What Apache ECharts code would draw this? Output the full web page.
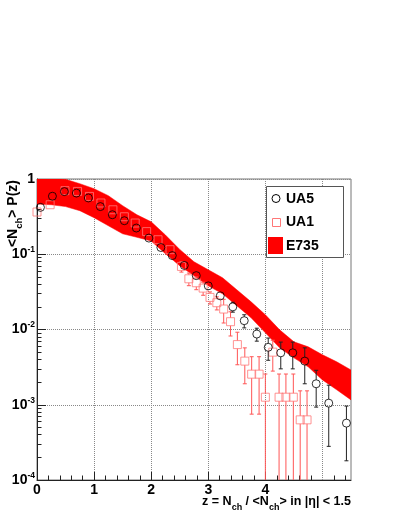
<!DOCTYPE html>
<html>
<head>
<meta charset="utf-8">
<script src="https://cdn.jsdelivr.net/npm/echarts@6/dist/echarts.min.js"></script>
<style>
html, body { margin: 0; padding: 0; background: #fff; }
#chart { width: 399px; height: 516px; }
</style>
</head>
<body>
<div id="chart"></div>
<script>
// UA5 points (z, <Nch>P(z), stat error)
const ua5Z = [0.06, 0.27, 0.48, 0.69, 0.90, 1.11, 1.32, 1.53, 1.74, 1.96, 2.17, 2.37, 2.58, 2.79, 3.00, 3.21,
  3.43, 3.63, 3.85, 4.05, 4.27, 4.48, 4.69, 4.89, 5.11, 5.42]
const ua5P = [0.42, 0.59, 0.68, 0.65, 0.56, 0.43, 0.335, 0.279, 0.223, 0.164, 0.123, 0.096, 0.071, 0.052, 0.038, 0.028,
  0.020, 0.0131, 0.0087, 0.0058, 0.0049, 0.0049, 0.0038, 0.0019, 0.00105, 0.00057]
const ua5Err = [0.013, 0.018, 0.02, 0.02, 0.017, 0.013, 0.01, 0.008, 0.007, 0.005, 0.006, 0.005, 0.0036, 0.0026, 0.003, 0.0028,
  0.003, 0.0026, 0.0017, 0.0019, 0.0019, 0.0019, 0.0019, 0.00097, 0.00077, 0.00039]

// UA1 points
const ua1Z = [0.0, 0.23, 0.49, 0.71, 0.92, 1.12, 1.33, 1.53, 1.72, 1.92, 2.12, 2.33, 2.53, 2.66, 2.79, 2.91,
  3.03, 3.15, 3.27, 3.39, 3.51, 3.64, 3.76, 3.89, 4.00, 4.13, 4.24, 4.36, 4.49, 4.61, 4.73]
const ua1P = [0.364, 0.455, 0.70, 0.684, 0.587, 0.48, 0.39, 0.315, 0.26, 0.20, 0.156, 0.115, 0.0689, 0.0472, 0.0418, 0.0355,
  0.0267, 0.0227, 0.0187, 0.0127, 0.0063, 0.0038, 0.00255, 0.00255, 0.00126, 0.0050, 0.00126, 0.00126, 0.00126, 0.00063, 0.00063]
const ua1Err = [0.018, 0.023, 0.035, 0.034, 0.029, 0.024, 0.02, 0.016, 0.013, 0.01, 0.008, 0.006, 0.011, 0.009, 0.008, 0.007,
  0.0049, 0.0045, 0.0065, 0.0045, 0.0029, 0.0019, 0.0018, 0.0018, 0.0013, 0.0022, 0.0013, 0.0013, 0.0013, 0.0009, 0.0009]

// E735 band (upper / lower edge)
const e735Z = [0, 0.25, 0.5, 0.75, 1.0, 1.25, 1.5, 1.75, 2.0, 2.25, 2.5, 2.75, 3.0, 3.25, 3.5, 3.75, 4.0, 4.25, 4.5, 4.75, 5.0, 5.25, 5.5]
const e735Hi = [1.05, 1.02, 0.99, 0.866, 0.743, 0.60, 0.442, 0.335, 0.27, 0.18, 0.116, 0.0794, 0.0622, 0.0487, 0.0337, 0.0233,
  0.0157, 0.0099, 0.00686, 0.00589, 0.00461, 0.00372, 0.0029]
const e735Lo = [0.465, 0.455, 0.43, 0.379, 0.306, 0.239, 0.187, 0.168, 0.15, 0.1016, 0.0703, 0.0518, 0.0381, 0.0298, 0.0207, 0.0143,
  0.00904, 0.0057, 0.0042, 0.00319, 0.00214, 0.00158, 0.00116]

const xTicks = [0, 1, 2, 3, 4, 5]
const xMinorTicks = []
for (let i = 1; i < 28; i++) { if (i % 5 !== 0) xMinorTicks.push(+(i * 0.2).toFixed(1)) }
const yTicks = [1e-4, 1e-3, 1e-2, 1e-1, 1]
const yMinorTicks = []
for (let d = -4; d < 0; d++) { for (let m = 2; m <= 9; m++) yMinorTicks.push(m * Math.pow(10, d)) }

const FONT = "'Liberation Sans', Arial, Helvetica, sans-serif"
const red = '#ff0000'
const ua1Color = '#f77'

const pairs = (xs, ys) => xs.map((x, i) => [x, ys[i]])
const triples = (xs, ys, es) => xs.map((x, i) => [x, ys[i], es[i]])

const errorBars = (color, half) => (params, api) => {
  const x = api.value(0), y = api.value(1), e = api.value(2)
  const c = api.coord([x, y])
  const cs = params.coordSys
  const yTop = api.coord([x, y + e])[1]
  const lo = y - e
  const yBot = lo > 0 ? api.coord([x, lo])[1] : cs.y + cs.height + 2
  const st = { stroke: color, lineWidth: 1 }
  const kids = []
  if (c[1] - yTop > half) {
    kids.push({ type: 'line', shape: { x1: c[0], y1: yTop, x2: c[0], y2: c[1] - half }, style: st })
    kids.push({ type: 'line', shape: { x1: c[0] - 2, y1: yTop, x2: c[0] + 2, y2: yTop }, style: st })
  }
  if (yBot - c[1] > half) {
    kids.push({ type: 'line', shape: { x1: c[0], y1: c[1] + half, x2: c[0], y2: yBot }, style: st })
    if (lo > 0) kids.push({ type: 'line', shape: { x1: c[0] - 2, y1: yBot, x2: c[0] + 2, y2: yBot }, style: st })
  }
  return { type: 'group', children: kids }
}

const bandItem = (params, api) => {
  const pts = []
  e735Z.forEach((z, i) => pts.push(api.coord([z, e735Hi[i]])))
  for (let i = e735Z.length - 1; i >= 0; i--) pts.push(api.coord([e735Z[i], e735Lo[i]]))
  return { type: 'polygon', shape: { points: pts }, style: { fill: red, stroke: red, lineWidth: 0.5 } }
}

const labelRich = {
  b: { fontSize: 14, fontWeight: 'bold', fontFamily: FONT, color: '#000', lineHeight: 18 },
  s: { fontSize: 8.5, fontWeight: 'bold', fontFamily: FONT, color: '#000', lineHeight: 10, verticalAlign: 'top' }
}
const titleRich = {
  m: { fontSize: 12.5, fontWeight: 'bold', fontFamily: FONT, color: '#000', lineHeight: 14, verticalAlign: 'top' },
  sub: { fontSize: 9, fontWeight: 'bold', fontFamily: FONT, color: '#000', lineHeight: 9, padding: [8, 0, 0, 0], verticalAlign: 'top' }
}

const chart = echarts.init(document.getElementById('chart'))
chart.setOption({
  animation: false,
  backgroundColor: '#fff',
  grid: { left: 37, top: 179, right: 48, bottom: 36, show: true, borderColor: '#777', borderWidth: 1, outerBoundsMode: 'none', containLabel: false },
  xAxis: [
    {
      type: 'value', min: 0, max: 5.5, interval: 1,
      axisLine: { show: true, onZero: false, lineStyle: { color: '#222', width: 1 } },
      axisTick: { show: true, inside: true, length: 8, customValues: xTicks, lineStyle: { color: '#222' } },
      axisLabel: { customValues: xTicks, margin: 3, fontSize: 14, fontWeight: 'bold', fontFamily: FONT, color: '#000', showMaxLabel: false },
      splitLine: { show: true, lineStyle: { type: 'dotted', color: '#888', width: 1 } },
      name: '{m|z = N}{sub|ch}{m| / <N}{sub|ch}{m|> in |η| < 1.5}',
      nameLocation: 'end', nameGap: 0, nameMoveOverlap: false,
      nameTextStyle: { align: 'right', verticalAlign: 'top', padding: [15, 0, 0, 0], rich: titleRich }
    },
    {
      type: 'value', min: 0, max: 5.5, position: 'bottom',
      axisLine: { show: false },
      axisTick: { show: true, inside: true, length: 4.5, customValues: xMinorTicks, lineStyle: { color: '#222' } },
      axisLabel: { show: false },
      splitLine: { show: false }
    }
  ],
  yAxis: [
    {
      type: 'log', logBase: 10, min: 1e-4, max: 1, position: 'left',
      axisLine: { show: true, onZero: false, lineStyle: { color: '#222', width: 1 } },
      axisTick: { show: true, inside: true, length: 9, customValues: yTicks, lineStyle: { color: '#222' } },
      axisLabel: {
        customValues: yTicks, margin: 2,
        formatter: (v) => {
          const e = Math.round(Math.log10(v))
          return e === 0 ? '{b|1}' : '{b|10}{s|' + e + '}'
        },
        rich: labelRich
      },
      splitLine: { show: true, lineStyle: { type: 'dotted', color: '#888', width: 1 } }
    },
    {
      type: 'log', logBase: 10, min: 1e-4, max: 1, position: 'left', offset: 0,
      axisLine: { show: false },
      axisTick: { show: true, inside: true, length: 4.5, customValues: yMinorTicks, lineStyle: { color: '#222' } },
      axisLabel: { show: false },
      splitLine: { show: false }
    }
  ],
  series: [
    { name: 'E735', type: 'custom', clip: true, renderItem: bandItem, data: [[0, 1]], z: 1 },
    { name: 'UA1 err', type: 'custom', clip: true, renderItem: errorBars('#f55', 4), data: triples(ua1Z, ua1P, ua1Err), z: 2 },
    {
      name: 'UA1', type: 'scatter', clip: false, symbol: 'rect', symbolSize: 8,
      itemStyle: { color: 'transparent', borderColor: ua1Color, borderWidth: 1 },
      data: pairs(ua1Z, ua1P), z: 3
    },
    { name: 'UA5 err', type: 'custom', clip: true, renderItem: errorBars('#222', 4), data: triples(ua5Z, ua5P, ua5Err), z: 4 },
    {
      name: 'UA5', type: 'scatter', clip: false, symbol: 'circle', symbolSize: 8,
      itemStyle: { color: 'transparent', borderColor: '#000', borderWidth: 1 },
      data: pairs(ua5Z, ua5P), z: 5
    }
  ],
  graphic: [
    {
      type: 'text', x: 14, y: 180, rotation: Math.PI / 2,
      style: {
        text: '{m|<N}{sub|ch}{m|> P(z)}', align: 'right', verticalAlign: 'middle',
        rich: {
          m: { fontSize: 14, fontWeight: 'bold', fontFamily: FONT, fill: '#000', lineHeight: 15, verticalAlign: 'top' },
          sub: { fontSize: 9.5, fontWeight: 'bold', fontFamily: FONT, fill: '#000', lineHeight: 10, padding: [8, 0, 0, 0], verticalAlign: 'top' }
        }
      }
    },
    { type: 'rect', shape: { x: 266.5, y: 186.5, width: 77, height: 71 }, style: { fill: '#fff', stroke: '#555', lineWidth: 1 }, z: 10 },
    { type: 'circle', shape: { cx: 276, cy: 198.5, r: 4 }, style: { fill: 'none', stroke: '#000', lineWidth: 1 }, z: 11 },
    { type: 'rect', shape: { x: 272.5, y: 218.5, width: 8, height: 8 }, style: { fill: 'none', stroke: ua1Color, lineWidth: 1 }, z: 11 },
    { type: 'rect', shape: { x: 268, y: 237, width: 15, height: 17 }, style: { fill: red }, z: 11 },
    { type: 'text', x: 286, y: 199, style: { text: 'UA5', font: 'bold 14px ' + FONT, fill: '#000', verticalAlign: 'middle' }, z: 11 },
    { type: 'text', x: 286, y: 222.5, style: { text: 'UA1', font: 'bold 14px ' + FONT, fill: '#000', verticalAlign: 'middle' }, z: 11 },
    { type: 'text', x: 286, y: 246, style: { text: 'E735', font: 'bold 14px ' + FONT, fill: '#000', verticalAlign: 'middle' }, z: 11 }
  ]
})
</script>
</body>
</html>
